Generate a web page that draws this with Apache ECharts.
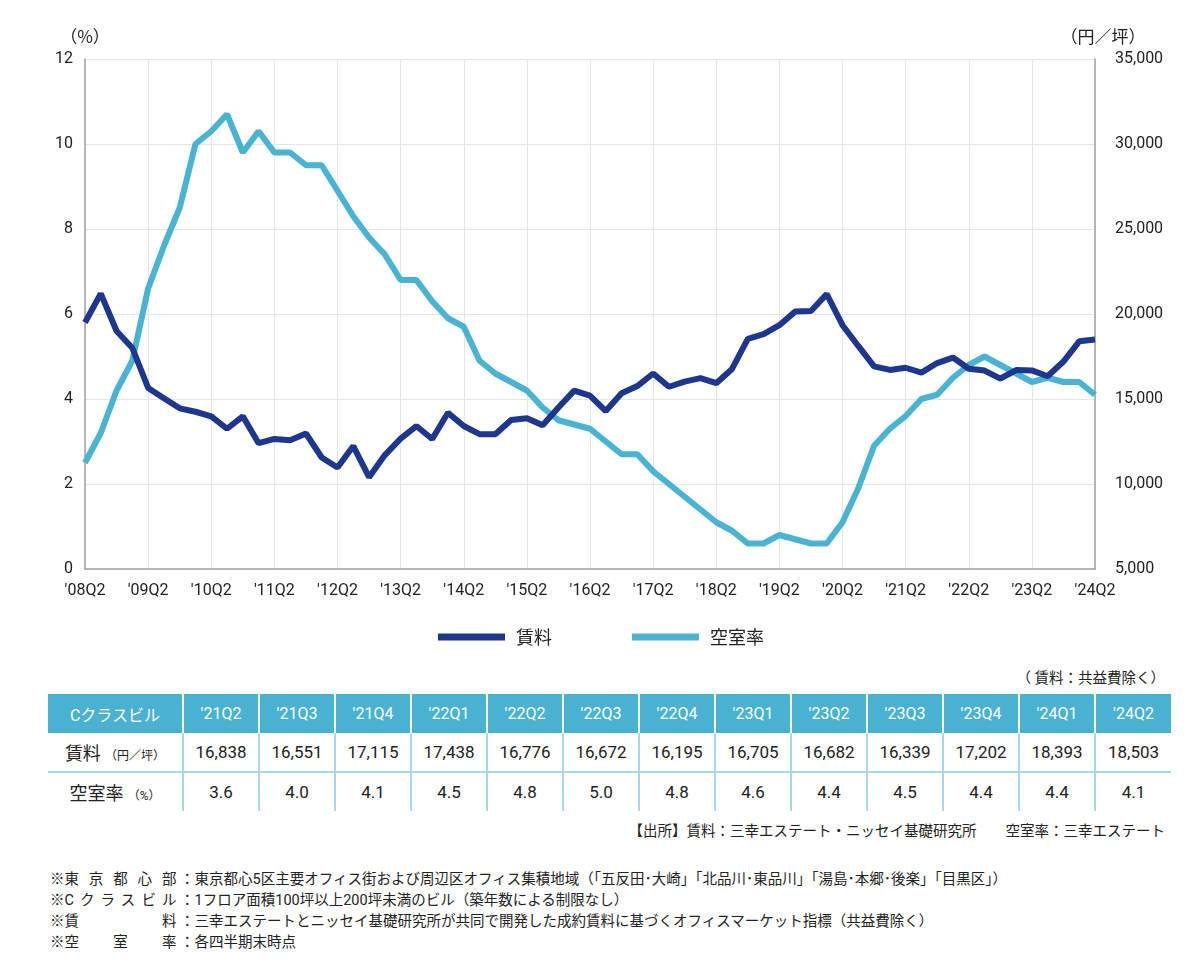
<!DOCTYPE html>
<html>
<head>
<meta charset="utf-8">
<script src="https://cdn.jsdelivr.net/npm/echarts@6/dist/echarts.min.js"></script>
<style>
  body { margin: 0; background: #fff; font-family: Roboto, 'Noto Sans CJK JP', sans-serif; color: #222; }
  #wrap { position: relative; width: 1200px; height: 968px; overflow: hidden; }
  #chart { position: absolute; left: 0; top: 0; width: 1200px; height: 665px; }
  .note-r { position: absolute; right: 35px; font-size: 14.5px; color: #222; }
  table { position: absolute; left: 48px; top: 694px; border-collapse: collapse; table-layout: fixed; }
  th { background: #49b1d1; color: #fff; font-weight: normal; font-size: 16px; height: 39px; padding: 0;
       border-left: 2px solid #fff; }
  th:first-child { border-left: none; }
  td { height: 38px; padding: 0; text-align: center; font-size: 17px; border-left: 2px solid #a6d8ea; }
  td:first-child { border-left: none; }
  tr.r1 td { border-bottom: 2px solid #a6d8ea; }
  .unit { font-size: 12px; }
  .lab { font-size: 18px; }
  #foot { position: absolute; left: 50px; top: 869px; font-size: 14.5px; line-height: 21px; }
  #foot .k { display: inline-block; width: 112px; text-align: justify; text-align-last: justify; }
</style>
</head>
<body>
<div id="wrap">
  <div id="chart"></div>
  <div class="note-r" style="top:666px;">（ 賃料：共益費除く）</div>
  <table id="tbl"></table>
  <div class="note-r" style="top:819px;">【出所】賃料：三幸エステート・ニッセイ基礎研究所　　空室率：三幸エステート</div>
  <div id="foot">
    <div>※<span class="k">東京都心部</span> ：東京都心5区主要オフィス街および周辺区オフィス集積地域（「五反田･大崎」「北品川･東品川」「湯島･本郷･後楽」「目黒区」）</div>
    <div>※<span class="k">Cクラスビル</span> ：1フロア面積100坪以上200坪未満のビル（築年数による制限なし）</div>
    <div>※<span class="k">賃料</span> ：三幸エステートとニッセイ基礎研究所が共同で開発した成約賃料に基づくオフィスマーケット指標（共益費除く）</div>
    <div>※<span class="k">空室率</span> ：各四半期末時点</div>
  </div>
</div>
<script>
var quarters = [
  "'08Q2", "'08Q3", "'08Q4",
  "'09Q1", "'09Q2", "'09Q3", "'09Q4",
  "'10Q1", "'10Q2", "'10Q3", "'10Q4",
  "'11Q1", "'11Q2", "'11Q3", "'11Q4",
  "'12Q1", "'12Q2", "'12Q3", "'12Q4",
  "'13Q1", "'13Q2", "'13Q3", "'13Q4",
  "'14Q1", "'14Q2", "'14Q3", "'14Q4",
  "'15Q1", "'15Q2", "'15Q3", "'15Q4",
  "'16Q1", "'16Q2", "'16Q3", "'16Q4",
  "'17Q1", "'17Q2", "'17Q3", "'17Q4",
  "'18Q1", "'18Q2", "'18Q3", "'18Q4",
  "'19Q1", "'19Q2", "'19Q3", "'19Q4",
  "'20Q1", "'20Q2", "'20Q3", "'20Q4",
  "'21Q1", "'21Q2", "'21Q3", "'21Q4",
  "'22Q1", "'22Q2", "'22Q3", "'22Q4",
  "'23Q1", "'23Q2", "'23Q3", "'23Q4",
  "'24Q1", "'24Q2"
];

// 賃料（円／坪）
var rent = [
  19500, 21200, 19000,
  18000, 15650, 15050, 14450,
  14250, 13980, 13250, 13980,
  12400, 12650, 12570, 12970,
  11560, 10970, 12230, 10400,
  11700, 12670, 13410, 12650,
  14190, 13410, 12930, 12930,
  13770, 13870, 13450, 14500,
  15490, 15200, 14290, 15340,
  15760, 16500, 15720, 16020,
  16230, 15930, 16770, 18540,
  18810, 19340, 20140, 20180,
  21170, 19340, 18120, 16920,
  16710, 16838, 16551, 17115,
  17438, 16776, 16672, 16195,
  16705, 16682, 16339, 17202,
  18393, 18503
];

// 空室率（%）
var vacancy = [
  2.5, 3.2, 4.2,
  4.9, 6.6, 7.6, 8.5,
  10.0, 10.3, 10.7, 9.8,
  10.3, 9.8, 9.8, 9.5,
  9.5, 8.9, 8.3, 7.8,
  7.4, 6.8, 6.8, 6.3,
  5.9, 5.7, 4.9, 4.6,
  4.4, 4.2, 3.8, 3.5,
  3.4, 3.3, 3.0, 2.7,
  2.7, 2.3, 2.0, 1.7,
  1.4, 1.1, 0.9, 0.6,
  0.6, 0.8, 0.7, 0.6,
  0.6, 1.1, 1.9, 2.9,
  3.3, 3.6, 4.0, 4.1,
  4.5, 4.8, 5.0, 4.8,
  4.6, 4.4, 4.5, 4.4,
  4.4, 4.1
];

var tableCount = 13;
var navy = '#1d3690';
var sky = '#49b3d3';

var chart = echarts.init(document.getElementById('chart'));
var labelFont = { fontSize: 16, color: '#222', fontFamily: "Roboto, 'Noto Sans CJK JP'" };

var option = {
  animation: false,
  textStyle: { fontFamily: "Roboto, 'Noto Sans CJK JP'" },
  grid: { left: 85, right: 105, top: 59, bottom: 96 },
  legend: {
    left: 438,
    top: 628,
    padding: 0,
    itemWidth: 67,
    itemHeight: 7,
    itemGap: 80,
    icon: 'rect',
    data: ['賃料', '空室率'],
    textStyle: { fontSize: 18, color: '#222', fontFamily: "'Noto Sans CJK JP'", padding: [0, 0, 0, 6] }
  },
  xAxis: {
    type: 'category',
    data: quarters,
    boundaryGap: false,
    axisLine: { lineStyle: { color: '#a0a0a0', width: 1.5 } },
    axisTick: { show: false },
    axisLabel: Object.assign({ interval: 3, margin: 14 }, labelFont),
    splitLine: { show: true, interval: 3, lineStyle: { color: '#e6e6e6' } }
  },
  yAxis: [
    {
      type: 'value',
      min: 0,
      max: 12,
      interval: 2,
      name: '（%）',
      nameGap: 14,
      nameTextStyle: { fontSize: 17, color: '#222', fontFamily: "'Noto Sans CJK JP'" },
      axisLine: { show: true, lineStyle: { color: '#a0a0a0', width: 1.5 } },
      axisLabel: Object.assign({ margin: 12 }, labelFont),
      splitLine: { lineStyle: { color: '#e6e6e6' } }
    },
    {
      type: 'value',
      min: 5000,
      max: 35000,
      interval: 5000,
      name: '（円／坪）',
      nameGap: 14,
      nameTextStyle: { fontSize: 17, color: '#222', fontFamily: "'Noto Sans CJK JP'", padding: [0, 0, 0, 16] },
      axisLine: { show: true, lineStyle: { color: '#a0a0a0', width: 1.5 } },
      axisLabel: Object.assign({
        margin: 20,
        formatter: function (v) { return v.toLocaleString('en-US'); }
      }, labelFont),
      splitLine: { show: false }
    }
  ],
  series: [
    {
      name: '空室率',
      type: 'line',
      yAxisIndex: 0,
      data: vacancy,
      showSymbol: false,
      symbol: 'none',
      color: sky,
      lineStyle: { width: 6, color: sky }
    },
    {
      name: '賃料',
      type: 'line',
      yAxisIndex: 1,
      data: rent,
      showSymbol: false,
      symbol: 'none',
      color: navy,
      lineStyle: { width: 6, color: navy }
    }
  ]
};
chart.setOption(option);

// table from the last quarters of the series
var start = quarters.length - tableCount;
var html = '<colgroup><col style="width:135px">';
for (var i = 0; i < tableCount; i++) html += '<col style="width:76px">';
html += '</colgroup><tr><th>Cクラスビル</th>';
for (var i = start; i < quarters.length; i++) html += '<th>' + quarters[i] + '</th>';
html += '</tr><tr class="r1"><td><span class="lab">賃料</span> <span class="unit">（円／坪）</span></td>';
for (var i = start; i < quarters.length; i++) html += '<td>' + rent[i].toLocaleString('en-US') + '</td>';
html += '</tr><tr><td><span class="lab">空室率</span> <span class="unit">（%）</span></td>';
for (var i = start; i < quarters.length; i++) html += '<td>' + vacancy[i].toFixed(1) + '</td>';
html += '</tr>';
document.getElementById('tbl').innerHTML = html;
</script>
</body>
</html>
